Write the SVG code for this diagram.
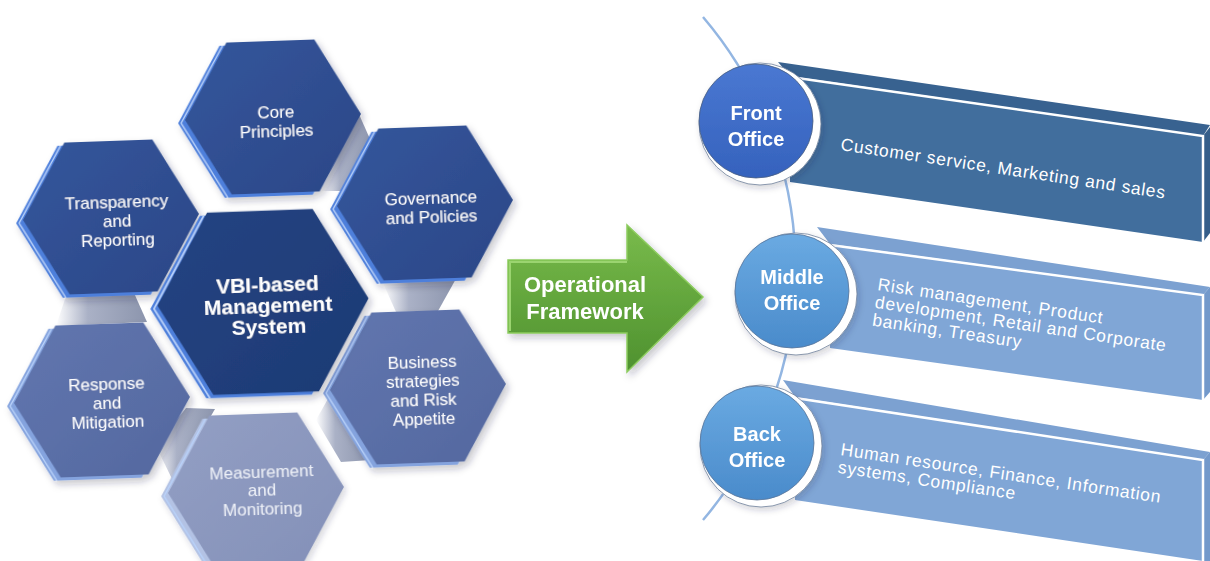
<svg xmlns="http://www.w3.org/2000/svg" width="1210" height="561" viewBox="0 0 1210 561">
  <defs>
    <path id="hex" d="M-88,0 L-44,-76 L44,-76 L88,0 L44,76 L-44,76 Z"/>
    <filter id="soft" x="-20%" y="-20%" width="140%" height="140%">
      <feDropShadow dx="3" dy="4" stdDeviation="3.5" flood-color="#1a2540" flood-opacity="0.25"/>
    </filter>
    <filter id="softLight" x="-20%" y="-20%" width="140%" height="140%">
      <feDropShadow dx="2" dy="3" stdDeviation="3" flood-color="#1a2540" flood-opacity="0.2"/>
    </filter>
    <linearGradient id="gDark" x1="0" y1="0" x2="1" y2="1">
      <stop offset="0" stop-color="#34569c"/>
      <stop offset="1" stop-color="#2b4787"/>
    </linearGradient>
    <linearGradient id="gNavy" x1="0" y1="0" x2="1" y2="1">
      <stop offset="0" stop-color="#244483"/>
      <stop offset="1" stop-color="#1d3a74"/>
    </linearGradient>
    <linearGradient id="gSlate" x1="0" y1="0" x2="1" y2="1">
      <stop offset="0" stop-color="#6176af"/>
      <stop offset="1" stop-color="#54689f"/>
    </linearGradient>
    <linearGradient id="gPale" x1="0" y1="0" x2="1" y2="1">
      <stop offset="0" stop-color="#939fc4"/>
      <stop offset="1" stop-color="#8390b8"/>
    </linearGradient>
    <linearGradient id="gSide" x1="0" y1="0" x2="1" y2="0">
      <stop offset="0" stop-color="#ffffff"/>
      <stop offset="0.35" stop-color="#aab1c6"/>
      <stop offset="1" stop-color="#8c95ad"/>
    </linearGradient>
    <linearGradient id="gArrow" x1="0" y1="0" x2="0" y2="1">
      <stop offset="0" stop-color="#79bb4b"/>
      <stop offset="1" stop-color="#4e912f"/>
    </linearGradient>
    <linearGradient id="gFront" x1="0" y1="0" x2="0" y2="1">
      <stop offset="0" stop-color="#4a78d2"/>
      <stop offset="1" stop-color="#3562bd"/>
    </linearGradient>
    <linearGradient id="gMid" x1="0" y1="0" x2="0" y2="1">
      <stop offset="0" stop-color="#6aaae2"/>
      <stop offset="1" stop-color="#4a8bcb"/>
    </linearGradient>
    <style>
      .lbl { font-family: "Liberation Sans", Arial, sans-serif; font-size: 17px; fill: #ffffff; text-anchor: middle; }
      .lblPale { fill: #eef1f8; }
      .big { font-family: "Liberation Sans", Arial, sans-serif; font-size: 21px; font-weight: bold; fill: #ffffff; text-anchor: middle; }
      .circ { font-family: "Liberation Sans", Arial, sans-serif; font-size: 20px; font-weight: bold; fill: #ffffff; text-anchor: middle; }
      .arrowTxt { font-family: "Liberation Sans", Arial, sans-serif; font-size: 22px; font-weight: bold; fill: #ffffff; text-anchor: middle; }
      .bar { font-family: "Liberation Sans", Arial, sans-serif; font-size: 17.5px; letter-spacing: 0.7px; fill: #ffffff; }
      .bevelDark { fill: #4d7fdb; }
      .bevelSlate { fill: #84a3de; }
      .bevelPale { fill: #b3c2e4; }
      .hl { fill: none; stroke: #b9d2fa; stroke-width: 1.4; }
      .sidePiece { fill: url(#gSide); }
      .arc { fill: none; stroke: #93b6e2; stroke-width: 2.5; }
      .ring { fill: #ffffff; stroke: #6d7f99; stroke-width: 0.8; }
      .edge { fill: none; stroke: #ffffff; stroke-width: 2.5; }
    </style>
  </defs>

  <rect width="1210" height="561" fill="#ffffff"/>

  <!-- extruded sides visible between the hexagons -->
  <g id="hex-sides">
    <polygon class="sidePiece" points="358,112 374,148 352,191 321,191"/>
    <polygon class="sidePiece" points="66,296 134,293 147,322 56,326"/>
    <polygon class="sidePiece" points="383,283 457,277 438,311 396,312"/>
    <polygon class="sidePiece" points="333,390 371,460 341,462 316,420"/>
    <polygon class="sidePiece" points="186,408 215,409 173,481 156,446"/>
  </g>

  <!-- hexagon cluster -->
  <g id="core-principles" transform="translate(273,117) rotate(-2)" filter="url(#soft)">
    <use href="#hex" class="bevelDark" transform="translate(-7,3)"/>
    <polyline class="hl" points="-48,79 -92,3 -48,-73"/>
    <use href="#hex" fill="url(#gDark)"/>
    <text class="lbl" x="3" y="1">Core</text>
    <text class="lbl" x="3" y="20">Principles</text>
  </g>

  <g id="transparency" transform="translate(111,217) rotate(-2)" filter="url(#soft)">
    <use href="#hex" class="bevelDark" transform="translate(-7,3)"/>
    <polyline class="hl" points="-48,79 -92,3 -48,-73"/>
    <use href="#hex" fill="url(#gDark)"/>
    <text class="lbl" x="6" y="-9">Transparency</text>
    <text class="lbl" x="6" y="10">and</text>
    <text class="lbl" x="6" y="29">Reporting</text>
  </g>

  <g id="governance" transform="translate(425,203) rotate(-2)" filter="url(#soft)">
    <use href="#hex" class="bevelDark" transform="translate(-7,3)"/>
    <polyline class="hl" points="-48,79 -92,3 -48,-73"/>
    <use href="#hex" fill="url(#gDark)"/>
    <text class="lbl" x="6" y="1">Governance</text>
    <text class="lbl" x="6" y="20">and Policies</text>
  </g>

  <g id="response" transform="translate(102,400) rotate(-2)" filter="url(#soft)">
    <use href="#hex" class="bevelSlate" transform="translate(-7,3)"/>
    <polyline class="hl" points="-48,79 -92,3 -48,-73"/>
    <use href="#hex" fill="url(#gSlate)"/>
    <text class="lbl" x="5" y="-10">Response</text>
    <text class="lbl" x="5" y="9">and</text>
    <text class="lbl" x="5" y="28">Mitigation</text>
  </g>

  <g id="business" transform="translate(418,387) rotate(-2)" filter="url(#soft)">
    <use href="#hex" class="bevelSlate" transform="translate(-7,3)"/>
    <polyline class="hl" points="-48,79 -92,3 -48,-73"/>
    <use href="#hex" fill="url(#gSlate)"/>
    <text class="lbl" x="5" y="-19">Business</text>
    <text class="lbl" x="5" y="0">strategies</text>
    <text class="lbl" x="5" y="19">and Risk</text>
    <text class="lbl" x="5" y="38">Appetite</text>
  </g>

  <g id="measurement" transform="translate(256,490) rotate(-2)" filter="url(#softLight)">
    <use href="#hex" class="bevelPale" transform="translate(-7,3)"/>
    <polyline class="hl" points="-48,79 -92,3 -48,-73"/>
    <use href="#hex" fill="url(#gPale)"/>
    <text class="lbl lblPale" x="6" y="-12">Measurement</text>
    <text class="lbl lblPale" x="6" y="6">and</text>
    <text class="lbl lblPale" x="6" y="25">Monitoring</text>
  </g>

  <g id="vbi-system" transform="translate(263,302) rotate(-2)" filter="url(#soft)">
    <g transform="scale(1.2)">
      <use href="#hex" class="bevelDark" transform="translate(-6,2.5)"/>
      <polyline class="hl" points="-47,78.5 -91,2.5 -47,-73.5"/>
      <use href="#hex" fill="url(#gNavy)"/>
    </g>
    <text class="big" x="5" y="-10">VBI-based</text>
    <text class="big" x="5" y="11">Management</text>
    <text class="big" x="5" y="32">System</text>
  </g>

  <!-- transition arrow -->
  <g id="operational-framework" filter="url(#soft)">
    <polygon points="508,260 627,260 627,225 703,297 627,372 627,333 508,333" fill="url(#gArrow)" stroke="#8ccb5e" stroke-width="1.5"/>
    <polyline points="510,331 510,262 627,262" fill="none" stroke="#9bd46f" stroke-width="2"/>
    <text class="arrowTxt" x="585" y="292">Operational</text>
    <text class="arrowTxt" x="585" y="319">Framework</text>
  </g>

  <!-- spine linking the three offices -->
  <g id="connectors">
    <path class="arc" d="M703,17 A388,388 0 0 1 703,520"/>
  </g>

  <!-- office bars -->
  <g id="front-bar">
    <polygon points="778,62 1210,125 1203,136 790,76" fill="#386290"/>
    <polygon points="790,76 1203,136 1203,242 790,182" fill="#416e9d"/>
    <polygon points="1203,136 1210,127 1210,233 1203,242" fill="#355e8a"/>
    <polyline class="edge" points="790,77 1203,136 1203,242"/>
    <text class="bar" x="840" y="150" transform="rotate(8.5 840 150)">Customer service, Marketing and sales</text>
  </g>

  <g id="middle-bar">
    <polygon points="817,227 1210,287 1203,295 830,244" fill="#7ca1d1"/>
    <polygon points="830,244 1203,295 1203,400 830,348" fill="#80a6d6"/>
    <polygon points="1203,295 1210,287 1210,392 1203,400" fill="#7399cb"/>
    <polyline class="edge" points="830,245 1203,295 1203,400"/>
    <text class="bar" x="877" y="290" transform="rotate(8.5 877 290)">Risk management, Product<tspan x="877" dy="18">development, Retail and Corporate</tspan><tspan x="877" dy="18">banking, Treasury</tspan></text>
  </g>

  <g id="back-bar">
    <polygon points="783,380 1210,452 1203,460 795,397" fill="#7ca1d1"/>
    <polygon points="795,397 1203,460 1203,561 795,500" fill="#80a6d6"/>
    <polygon points="1203,460 1210,452 1210,561 1203,561" fill="#7399cb"/>
    <polyline class="edge" points="795,398 1203,460 1203,561"/>
    <text class="bar" x="840" y="455" transform="rotate(8.5 840 455)">Human resource, Finance, Information<tspan x="840" dy="18">systems, Compliance</tspan></text>
  </g>

  <!-- office discs -->
  <g id="front-office" filter="url(#softLight)">
    <circle class="ring" cx="760" cy="124" r="61"/>
    <circle cx="756" cy="121" r="57" fill="url(#gFront)" stroke="#4a5f80" stroke-width="0.8"/>
    <text class="circ" x="756" y="120">Front</text>
    <text class="circ" x="756" y="146">Office</text>
  </g>

  <g id="middle-office" filter="url(#softLight)">
    <circle class="ring" cx="796" cy="294" r="61"/>
    <circle cx="792" cy="291" r="57" fill="url(#gMid)" stroke="#5a7598" stroke-width="0.8"/>
    <text class="circ" x="792" y="284">Middle</text>
    <text class="circ" x="792" y="310">Office</text>
  </g>

  <g id="back-office" filter="url(#softLight)">
    <circle class="ring" cx="761" cy="446" r="61"/>
    <circle cx="757" cy="443" r="57" fill="url(#gMid)" stroke="#5a7598" stroke-width="0.8"/>
    <text class="circ" x="757" y="441">Back</text>
    <text class="circ" x="757" y="467">Office</text>
  </g>
</svg>
